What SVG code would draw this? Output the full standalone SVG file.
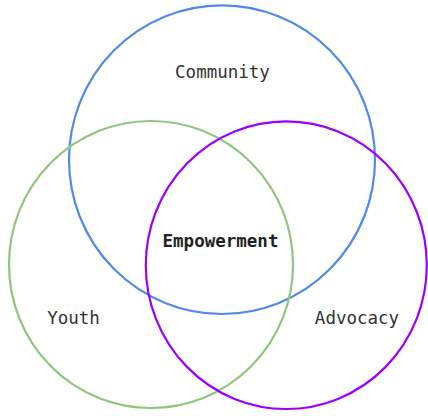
<svg xmlns="http://www.w3.org/2000/svg" width="428" height="416" viewBox="0 0 428 416">
  <style>
    .set { fill: none; stroke-width: 2.2; }
    .label { font-family: "DejaVu Sans Mono", "Liberation Mono", monospace; font-size: 17.5px; fill: #333333; text-anchor: middle; }
    .core { font-weight: bold; fill: #222222; }
  </style>
  <rect width="428" height="416" fill="#ffffff"/>
  <g id="community">
    <ellipse class="set" cx="222" cy="159.7" rx="153" ry="154.3" stroke="#4f8ae9"/>
    <text class="label" x="222.5" y="78">Community</text>
  </g>
  <g id="youth">
    <ellipse class="set" cx="151" cy="264.5" rx="142" ry="143.5" stroke="#93c47d"/>
    <text class="label" x="73.5" y="324">Youth</text>
  </g>
  <g id="advocacy">
    <ellipse class="set" cx="286.3" cy="265.2" rx="140.5" ry="143.8" stroke="#9900ff"/>
    <text class="label" x="357" y="323.5">Advocacy</text>
  </g>
  <g id="empowerment">
    <text class="label core" x="220.5" y="247">Empowerment</text>
  </g>
</svg>
